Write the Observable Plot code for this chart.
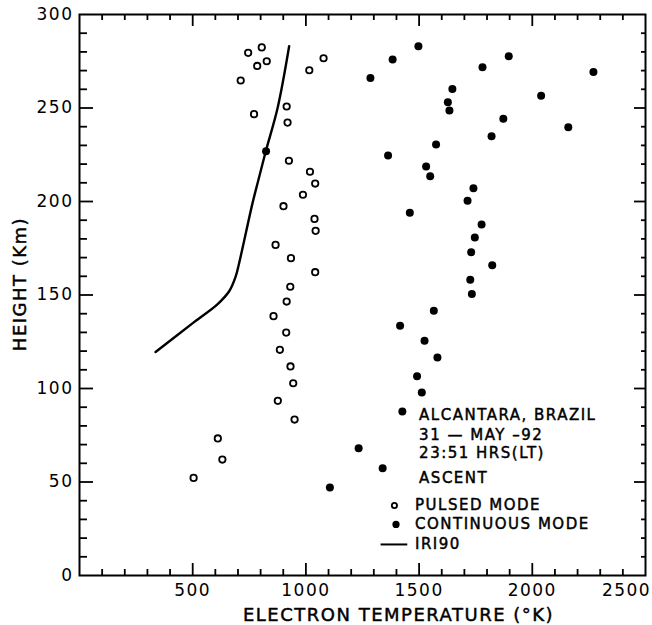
<!DOCTYPE html>
<html>
<head>
<meta charset="utf-8">
<script src="https://cdn.jsdelivr.net/npm/d3@7"></script>
<script src="https://cdn.jsdelivr.net/npm/@observablehq/plot@0.6"></script>
<style>
  body { margin: 0; background: #fff; }
  #wrap { position: relative; width: 652px; height: 625px; }
  #wrap svg { display: block; position: absolute; left: 0; top: 0; }
  #wrap svg text { letter-spacing: 1.5px; }
  #wrap svg g[aria-label="axis title"] text { letter-spacing: 1.6px; }
</style>
</head>
<body>
<div id="wrap"></div>
<script>
// ---- Data ----
// Pulsed mode (open circles): electron temperature (K), height (km)
const pulsedTemp   = [745, 805, 827, 785, 712, 1015, 1078, 771, 915, 919, 925, 1018, 1041, 987, 901, 1038, 1043, 866, 934, 1041, 931, 915, 857, 913, 885, 932, 944, 876, 950, 611, 631, 504];
const pulsedHeight = [279.5, 282.4, 275, 272.5, 264.7, 270.2, 276.6, 246.7, 250.8, 242.2, 221.8, 215.9, 209.6, 203.6, 197.5, 190.7, 184.3, 176.8, 169.7, 162.2, 154.4, 146.5, 138.7, 129.9, 120.7, 111.8, 102.8, 93.4, 83.4, 73.3, 62, 52.2];

// Continuous mode (filled dots)
const contTemp   = [824, 1497, 1383, 1285, 1780, 1896, 2270, 1647, 1627, 1634, 2039, 1872, 2159, 1820, 1575, 1363, 1531, 1549, 1740, 1714, 1459, 1776, 1746, 1730, 1823, 1726, 1733, 1565, 1416, 1524, 1581, 1491, 1512, 1426, 1233, 1339, 1106];
const contHeight = [226.9, 283, 275.9, 266.1, 271.8, 277.7, 269.2, 260.1, 253.1, 248.7, 256.5, 244.2, 239.7, 234.9, 230.5, 224.6, 218.7, 213.5, 207.1, 200.4, 194, 187.7, 180.7, 172.9, 165.9, 158.1, 150.6, 141.6, 133.5, 125.5, 116.6, 106.6, 97.9, 87.7, 68.1, 57.4, 47.1];

// IRI90 model profile (solid line)
const iriTemp   = [926, 875, 823, 789, 764, 705, 690, 661, 609, 506, 336];
const iriHeight = [283, 250, 227, 211, 199, 167, 160, 152, 145, 135.5, 119.5];

// Tick labels
const xTickLabels = [500, 1000, 1500, 2000];
const xLastTick = [2500];
const yTickLabels = [0, 50, 100, 150, 200, 250, 300];

// Text
const xTitle = "ELECTRON TEMPERATURE (°K)";
const yTitle = "HEIGHT (Km)";
const infoLines = ["ALCANTARA, BRAZIL", "31 — MAY –92", "23:51 HRS(LT)", "ASCENT"];
const legendLabels = ["PULSED MODE", "CONTINUOUS MODE", "IRI90"];

// ---- Build ----
const pulsed = pulsedTemp.map((t, i) => ({t, h: pulsedHeight[i]}));
const cont = contTemp.map((t, i) => ({t, h: contHeight[i]}));
const iri = iriTemp.map((t, i) => ({t, h: iriHeight[i]}));

const W = 652, H = 625, mL = 79, mR = 7, mT = 14, mB = 50;
const xMax = 2500, yMax = 300;
const xMinor = d3.range(100, 2500, 100).filter(v => v % 500 !== 0);
const xMajor = [500, 1000, 1500, 2000];
const yMinor = d3.range(10, 300, 10).filter(v => v % 50 !== 0);
const yMajor = [50, 100, 150, 200, 250];
const font = "DejaVu Sans";
const ink = {fill: "#000", stroke: "#000", strokeWidth: 0.45};
const fmt = d => String(d);

const infoY = [85.6, 74.9, 65.2, 51.9];
const legY = [37.4, 27.3, 16.6];

const base = {
  width: W, height: H,
  marginLeft: mL, marginRight: mR, marginTop: mT, marginBottom: mB,
  x: {domain: [0, xMax]},
  y: {domain: [0, yMax]}
};

// Main chart: labels, data, annotation, frame
const chart = Plot.plot({
  ...base,
  style: {fontFamily: font, color: "#000", background: "#fff"},
  marks: [
    Plot.axisX({ticks: xTickLabels, tickFormat: fmt, tickSize: 0, tickPadding: 8, fontSize: 17, label: null, ...ink}),
    Plot.axisX({ticks: xLastTick, tickFormat: fmt, tickSize: 0, tickPadding: 8, fontSize: 17, label: null, dx: -19, ...ink}),
    Plot.axisY({ticks: yTickLabels, tickFormat: fmt, tickSize: 0, tickPadding: 6, fontSize: 17, label: null, ...ink}),
    Plot.text([xTitle], {frameAnchor: "bottom", textAnchor: "middle", lineAnchor: "middle", dx: 36, dy: 40, fontSize: 18, text: d => d, ariaLabel: "axis title", ...ink}),
    Plot.text([yTitle], {frameAnchor: "left", textAnchor: "middle", lineAnchor: "middle", rotate: -90, dx: -59, dy: -11, fontSize: 18, text: d => d, ariaLabel: "axis title", ...ink}),
    Plot.line(iri, {x: "t", y: "h", curve: "catmull-rom", stroke: "#000", strokeWidth: 2.4}),
    Plot.dot(pulsed, {x: "t", y: "h", r: 3.2, stroke: "#000", strokeWidth: 1.8, fill: "#fff"}),
    Plot.dot(cont, {x: "t", y: "h", r: 4, fill: "#000", stroke: "none"}),
    Plot.text(infoLines, {x: 1500, y: (d, i) => infoY[i], text: d => d, textAnchor: "start", fontSize: 15, ...ink}),
    Plot.text(legendLabels, {x: 1482, y: (d, i) => legY[i], text: d => d, textAnchor: "start", fontSize: 15, ...ink}),
    Plot.dot([legendLabels[0]], {x: 1391, y: legY[0], r: 2.6, stroke: "#000", strokeWidth: 1.8, fill: "#fff"}),
    Plot.dot([legendLabels[1]], {x: 1398, y: legY[1], r: 3.6, fill: "#000"}),
    Plot.ruleY([legY[2]], {x1: 1332, x2: 1450, stroke: "#000", strokeWidth: 2}),
    Plot.frame({stroke: "#000", strokeWidth: 2})
  ]
});

// Tick layer: inward ticks on all four sides, same scales, transparent background
const tk = (axis, anchor, ticks, size) =>
  axis({anchor, ticks, tickSize: -size, tickFormat: () => "", label: null, stroke: "#000", strokeWidth: 1.8});
const ticksLayer = Plot.plot({
  ...base,
  style: {background: "none"},
  marks: [
    tk(Plot.axisX, "bottom", xMinor, 6),
    tk(Plot.axisX, "bottom", xMajor, 12),
    tk(Plot.axisX, "top", xMinor, 5),
    tk(Plot.axisX, "top", xMajor, 11),
    tk(Plot.axisY, "left", yMinor, 8),
    tk(Plot.axisY, "left", yMajor, 14),
    tk(Plot.axisY, "right", yMinor, 5),
    tk(Plot.axisY, "right", yMajor, 12)
  ]
});

const wrap = document.getElementById("wrap");
wrap.appendChild(chart);
wrap.appendChild(ticksLayer);
</script>
</body>
</html>
